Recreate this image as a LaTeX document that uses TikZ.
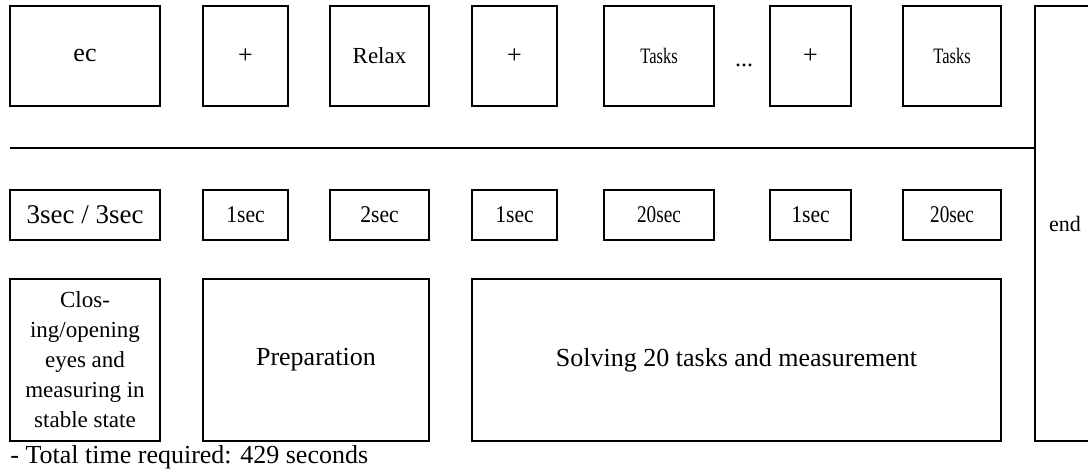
\documentclass[tikz,border=0pt]{standalone}
\usepackage{fontspec}
\setmainfont{Liberation Serif}
\usepackage{graphicx}

\newcommand{\squeeze}[2]{\scalebox{#1}[1]{#2}}

\begin{document}
\begin{tikzpicture}[x=0.5pt,y=-0.5pt,
  frame/.style={draw,line width=0.6pt,inner sep=0pt,font=\fontsize{13}{15}\selectfont},
  screen/.style={frame,minimum height=50pt},
  timing/.style={frame,minimum height=25pt},
  phase/.style={frame,minimum height=81pt}]
\useasboundingbox (0,0) rectangle (1088,471);
\clip (0,0) rectangle (1088,471);

% screens
\node[screen,minimum width=75pt]   (ec)     at (85,56)    {ec};
\node[screen,minimum width=42.5pt] (plusA)  at (245.5,56) {+};
\node[screen,minimum width=49.5pt,font=\fontsize{11.5}{14}\selectfont] (relax) at (379.5,56) {Relax};
\node[screen,minimum width=42.5pt] (plusB)  at (514.5,56) {+};
\node[screen,minimum width=55pt,font=\fontsize{11}{13}\selectfont]   (tasksA) at (659,56)   {\squeeze{0.75}{Tasks}};
\node[anchor=base,inner sep=0pt,font=\fontsize{12}{14}\selectfont]   (dots)   at (744,66)   {...};
\node[screen,minimum width=40.5pt] (plusC)  at (810.5,56) {+};
\node[screen,minimum width=49pt,font=\fontsize{11}{13}\selectfont]   (tasksB) at (952,56)   {\squeeze{0.75}{Tasks}};

% end of the session
\node[frame,minimum width=30pt,minimum height=217.5pt,font=\fontsize{11}{13}\selectfont] (endbox) at (1065,223.5) {end};

\coordinate (split) at (10,148);
\draw[line width=0.6pt] (split) -- (split -| endbox.west);

% timings
\node[timing,minimum width=75pt,font=\fontsize{13.5}{15}\selectfont] (tEc) at (ec |- 0,215) {3sec / 3sec};
\node[timing,minimum width=42.5pt,font=\fontsize{12}{14}\selectfont] (tPlusA)  at (plusA |- 0,215)  {\squeeze{0.9}{1sec}};
\node[timing,minimum width=49.5pt,font=\fontsize{12}{14}\selectfont] (tRelax)  at (relax |- 0,215)  {\squeeze{0.9}{2sec}};
\node[timing,minimum width=42.5pt,font=\fontsize{12}{14}\selectfont] (tPlusB)  at (plusB |- 0,215)  {\squeeze{0.9}{1sec}};
\node[timing,minimum width=55pt,font=\fontsize{12}{14}\selectfont]   (tTasksA) at (tasksA |- 0,215) {\squeeze{0.8}{20sec}};
\node[timing,minimum width=40.5pt,font=\fontsize{12}{14}\selectfont] (tPlusC)  at (plusC |- 0,215)  {\squeeze{0.9}{1sec}};
\node[timing,minimum width=49pt,font=\fontsize{12}{14}\selectfont]   (tTasksB) at (tasksB |- 0,215) {\squeeze{0.8}{20sec}};

% phases
\node[phase,minimum width=75pt,align=center,font=\fontsize{11.5}{15}\selectfont] (closing) at (85,360)
  {Clos-\\ing/opening\\eyes and\\measuring in\\stable state};
\node[phase,minimum width=113pt]   (prep)    at (316,360)   {Preparation};
\node[phase,minimum width=264.5pt] (solving) at (736.5,360) {Solving 20 tasks and measurement};

\node[anchor=base west,inner sep=0pt,font=\fontsize{13}{15}\selectfont] (total) at (10,463)
  {- Total time required: 429 seconds};
\end{tikzpicture}
\end{document}
